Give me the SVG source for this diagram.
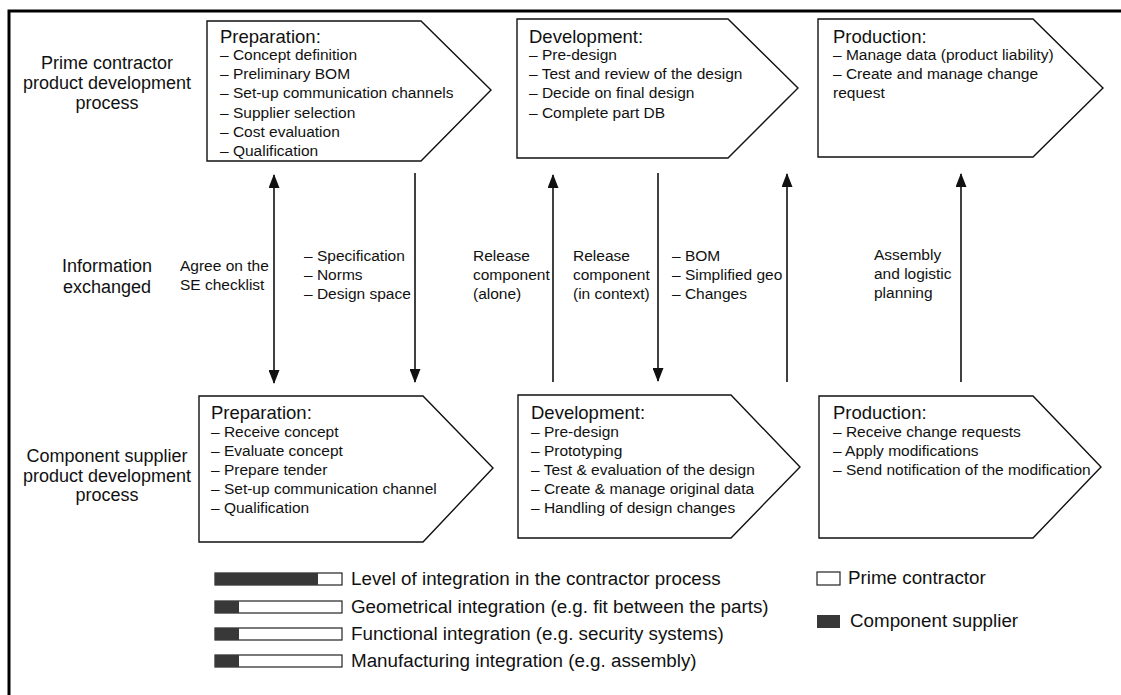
<svg xmlns="http://www.w3.org/2000/svg" width="1121" height="695" viewBox="0 0 1121 695">
  <style>
    .frame { stroke: #000; stroke-width: 3; fill: none; }
    .box { fill: #fff; stroke: #111; stroke-width: 1.4; }
    .side { font-family: "Liberation Sans", Arial, sans-serif; font-size: 18px; fill: #111; }
    .head { font-family: "Liberation Sans", Arial, sans-serif; font-size: 18.5px; fill: #111; }
    .item { font-family: "Liberation Sans", Arial, sans-serif; font-size: 15.5px; fill: #111; }
    .lbl { font-family: "Liberation Sans", Arial, sans-serif; font-size: 15.5px; fill: #111; }
    .leg { font-family: "Liberation Sans", Arial, sans-serif; font-size: 18.8px; fill: #111; }
    .conn { stroke: #111; stroke-width: 1.6; fill: none; }
    .dark { fill: #383838; }
    .bar { fill: #fff; stroke: #222; stroke-width: 1.2; }
  </style>
  <defs>
    <marker id="arrow" viewBox="0 0 14 11" refX="13" refY="5.5" markerWidth="14" markerHeight="11" markerUnits="userSpaceOnUse" orient="auto-start-reverse">
      <path d="M0,0 L14,5.5 L0,11 Z" fill="#111"/>
    </marker>
  </defs>

  <rect width="1121" height="695" fill="#fff"/>

  <!-- outer frame: top and left rules only -->
  <path class="frame" d="M9,695 V11 H1121"/>

  <!-- row labels -->
  <g id="label-prime">
    <text class="side" x="107" y="69" text-anchor="middle">Prime contractor</text>
    <text class="side" x="107" y="89" text-anchor="middle">product development</text>
    <text class="side" x="107" y="109" text-anchor="middle">process</text>
  </g>
  <g id="label-info">
    <text class="side" x="107" y="272" text-anchor="middle">Information</text>
    <text class="side" x="107" y="293" text-anchor="middle">exchanged</text>
  </g>
  <g id="label-supplier">
    <text class="side" x="107" y="462" text-anchor="middle">Component supplier</text>
    <text class="side" x="107" y="482" text-anchor="middle">product development</text>
    <text class="side" x="107" y="501" text-anchor="middle">process</text>
  </g>

  <!-- prime contractor phases -->
  <g id="pc-preparation">
    <path class="box" d="M207,21 H421 L491,90 L421,161 H207 Z"/>
    <text class="head" x="220" y="43">Preparation:</text>
    <text class="item" x="220" y="60">– Concept definition</text>
    <text class="item" x="220" y="79">– Preliminary BOM</text>
    <text class="item" x="220" y="98">– Set-up communication channels</text>
    <text class="item" x="220" y="117.5">– Supplier selection</text>
    <text class="item" x="220" y="136.5">– Cost evaluation</text>
    <text class="item" x="220" y="156">– Qualification</text>
  </g>
  <g id="pc-development">
    <path class="box" d="M517,19 H728 L798,88 L728,158 H517 Z"/>
    <text class="head" x="529" y="43">Development:</text>
    <text class="item" x="529" y="60">– Pre-design</text>
    <text class="item" x="529" y="79">– Test and review of the design</text>
    <text class="item" x="529" y="98">– Decide on final design</text>
    <text class="item" x="529" y="117.5">– Complete part DB</text>
  </g>
  <g id="pc-production">
    <path class="box" d="M818,19 H1033 L1103,88 L1033,157 H818 Z"/>
    <text class="head" x="833" y="43">Production:</text>
    <text class="item" x="833" y="60">– Manage data (product liability)</text>
    <text class="item" x="833" y="79">– Create and manage change</text>
    <text class="item" x="833" y="98">request</text>
  </g>

  <!-- component supplier phases -->
  <g id="cs-preparation">
    <path class="box" d="M199,396 H423 L493,468 L423,542 H199 Z"/>
    <text class="head" x="211" y="419">Preparation:</text>
    <text class="item" x="211" y="437">– Receive concept</text>
    <text class="item" x="211" y="456">– Evaluate concept</text>
    <text class="item" x="211" y="475">– Prepare tender</text>
    <text class="item" x="211" y="494">– Set-up communication channel</text>
    <text class="item" x="211" y="513">– Qualification</text>
  </g>
  <g id="cs-development">
    <path class="box" d="M518,395 H731 L800,467 L731,538 H518 Z"/>
    <text class="head" x="531" y="419">Development:</text>
    <text class="item" x="531" y="437">– Pre-design</text>
    <text class="item" x="531" y="456">– Prototyping</text>
    <text class="item" x="531" y="475">– Test &amp; evaluation of the design</text>
    <text class="item" x="531" y="494">– Create &amp; manage original data</text>
    <text class="item" x="531" y="513">– Handling of design changes</text>
  </g>
  <g id="cs-production">
    <path class="box" d="M819,396 H1033 L1101,467 L1033,538 H819 Z"/>
    <text class="head" x="833" y="419">Production:</text>
    <text class="item" x="833" y="437">– Receive change requests</text>
    <text class="item" x="833" y="456">– Apply modifications</text>
    <text class="item" x="833" y="475">– Send notification of the modification</text>
  </g>

  <!-- information flows between the two processes -->
  <g id="connectors">
    <line class="conn" x1="274" y1="175" x2="274" y2="383" marker-start="url(#arrow)" marker-end="url(#arrow)"/>
    <line class="conn" x1="415" y1="173" x2="415" y2="382" marker-end="url(#arrow)"/>
    <line class="conn" x1="553" y1="382" x2="553" y2="175" marker-end="url(#arrow)"/>
    <line class="conn" x1="658" y1="173" x2="658" y2="381" marker-end="url(#arrow)"/>
    <line class="conn" x1="787" y1="382" x2="787" y2="174" marker-end="url(#arrow)"/>
    <line class="conn" x1="961" y1="382" x2="961" y2="174" marker-end="url(#arrow)"/>
  </g>

  <!-- connector labels -->
  <g id="flow-labels">
    <text class="lbl" x="180" y="271">Agree on the</text>
    <text class="lbl" x="180" y="290">SE checklist</text>
    <text class="lbl" x="304" y="261">– Specification</text>
    <text class="lbl" x="304" y="280">– Norms</text>
    <text class="lbl" x="304" y="299">– Design space</text>
    <text class="lbl" x="473" y="261">Release</text>
    <text class="lbl" x="473" y="280">component</text>
    <text class="lbl" x="473" y="299">(alone)</text>
    <text class="lbl" x="573" y="261">Release</text>
    <text class="lbl" x="573" y="280">component</text>
    <text class="lbl" x="573" y="299">(in context)</text>
    <text class="lbl" x="672" y="261">– BOM</text>
    <text class="lbl" x="672" y="280">– Simplified geo</text>
    <text class="lbl" x="672" y="299">– Changes</text>
    <text class="lbl" x="874" y="260">Assembly</text>
    <text class="lbl" x="874" y="279">and logistic</text>
    <text class="lbl" x="874" y="298">planning</text>
  </g>

  <!-- legend: integration levels -->
  <g id="legend-levels">
    <rect class="bar" x="215" y="573" width="127" height="12"/>
    <rect class="dark" x="215" y="573" width="103" height="12"/>
    <text class="leg" x="351" y="585">Level of integration in the contractor process</text>

    <rect class="bar" x="215" y="601" width="127" height="12"/>
    <rect class="dark" x="215" y="601" width="24" height="12"/>
    <text class="leg" x="351" y="613">Geometrical integration (e.g. fit between the parts)</text>

    <rect class="bar" x="215" y="628" width="127" height="12"/>
    <rect class="dark" x="215" y="628" width="24" height="12"/>
    <text class="leg" x="351" y="640">Functional integration (e.g. security systems)</text>

    <rect class="bar" x="215" y="655" width="127" height="12"/>
    <rect class="dark" x="215" y="655" width="24" height="12"/>
    <text class="leg" x="351" y="667">Manufacturing integration (e.g. assembly)</text>
  </g>

  <!-- legend: parties -->
  <g id="legend-parties">
    <rect class="bar" x="817" y="572" width="23" height="13"/>
    <text class="leg" x="848" y="584">Prime contractor</text>
    <rect class="dark" x="817" y="615" width="23" height="13"/>
    <text class="leg" x="850" y="627">Component supplier</text>
  </g>
</svg>
